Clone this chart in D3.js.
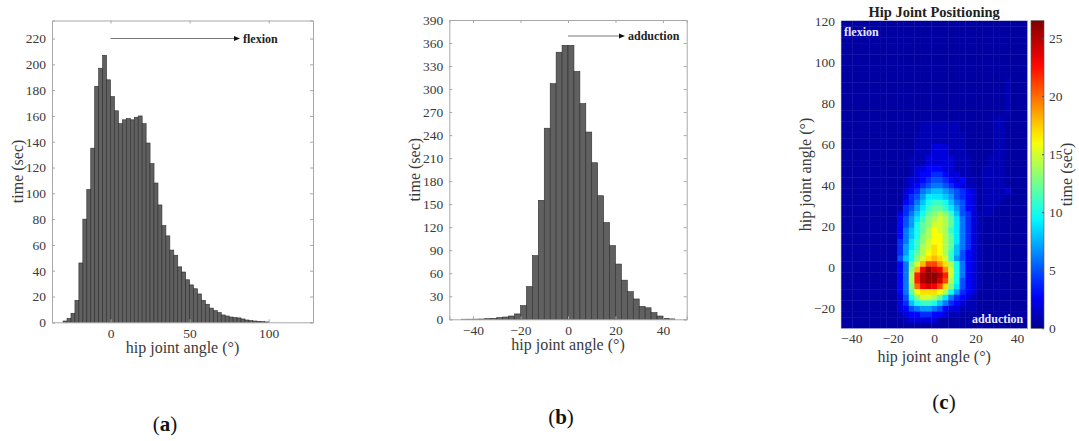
<!DOCTYPE html>
<html>
<head>
<meta charset="utf-8">
<script src="https://cdn.jsdelivr.net/npm/d3@7/dist/d3.min.js"></script>
<style>
  body { margin: 0; background: #fff; }
  svg text { font-family: "Liberation Serif", "DejaVu Serif", serif; }
</style>
</head>
<body>
<svg id="fig" width="1079" height="441"></svg>
<script>
// ---- data: panel (a) flexion histogram, 2.5 deg bins starting at -30
const flexStart = -30, binWidth = 2.5
const flexTime = [1, 3, 7, 17, 46, 80, 103, 135, 183, 197, 207, 188, 175, 164, 154, 157, 158, 157, 159, 160,
  154, 139, 123, 108, 91, 75, 67, 56, 52, 43, 39, 33, 29, 26, 22, 17, 14, 11, 9, 7.5,
  5.7, 4.9, 4.1, 3.6, 3.4, 2.6, 1.8, 1.3, 1.0, 0.8, 0.5, 0.3]
const flexXTicks = [0, 50, 100]
const flexYTicks = [0, 20, 40, 60, 80, 100, 120, 140, 160, 180, 200, 220]

// ---- data: panel (b) adduction histogram, 2.5 deg bins starting at -45
const addStart = -45
const addTime = [0.1, 0.15, 0.2, 0.4, 0.9, 1.3, 2.2, 3, 4.3, 7, 17.8, 42.6, 83, 155, 249, 307, 348, 357,
  357, 323, 281, 244, 204, 161, 126, 96, 72, 51, 36, 26.5, 16.8, 15, 8.7, 4.3, 1.3, 0.5]
const addXTicks = [-40, -20, 0, 20, 40]
const addYTicks = [0, 30, 60, 90, 120, 150, 180, 210, 240, 270, 300, 330, 360, 390]

// ---- data: panel (c) 2D histogram (sec), rows from top (flexion 120) to bottom (-30)
// one char per cell: "." = 0.5, then 0-9, a=10 ... q=26
const heatCols = 33, heatRows = 55
const heatGrid = [
  ".................................",
  ".................................",
  ".................................",
  ".................................",
  ".................................",
  ".................................",
  ".................................",
  ".................................",
  ".................................",
  ".................................",
  ".............................1...",
  ".............................1...",
  ".............................1...",
  ".............................1...",
  ".............................1...",
  ".............................1...",
  ".............................1...",
  "...........................11....",
  "..............1111111......11....",
  "..............1111111......11....",
  ".............111111111.....11....",
  ".............111111111.....11....",
  ".............111222111.....11....",
  ".............111222111.....11....",
  "............11122222111...111....",
  "............11122222111...111....",
  "............12233322111..1111....",
  "............12334432211..1111....",
  "...........1223455432311.1111....",
  "...........1234566543211.1111....",
  "...........2346788765432.11112...",
  "...........2457999875432.1111....",
  "...........3468abba86532.111.....",
  "..........14579bccb97532.11......",
  "..........2468acdedb8542111......",
  "..........3579bdefec96421........",
  "..........357acdffec96421........",
  "..........368acegfeb96421........",
  "..........368adeggec96421........",
  "..........469bdfggec96421........",
  "..........479befhgec86421........",
  "..........47aceghgeb85321........",
  "..........58adfhihfb75321........",
  "..........36cfilljhea6321........",
  "..........36dinqonjfa6321........",
  "..........36empqqpmfa6321........",
  "..........36empqqolea5321........",
  "..........36dknonlhd95321........",
  "..........36cghhhgea7432.........",
  "..........25adffec964321.........",
  "..........248abba8643211.........",
  "..........23567765322111.........",
  "..........12334433211............",
  "...........122222................",
  "................................."
]
const heatXTicks = [-40, -20, 0, 20, 40]
const heatYTicks = [-20, 0, 20, 40, 60, 80, 100, 120]
const cbarTicks = [0, 5, 10, 15, 20, 25]
const cbarMax = 26.5

const svg = d3.select("#fig")
const textCol = "#3a3a3a", frameCol = "#a8a8a8"
const tickFont = "13.5px", labelFont = "16px"

// draw a histogram panel with a matlab-like box
function histPanel(box, xDom, yDom, start, values, xTicks, yTicks, arrowText) {
  const x = d3.scaleLinear().domain(xDom).range([box.left, box.right])
  const y = d3.scaleLinear().domain(yDom).range([box.bottom, box.top])
  const g = svg.append("g")

  g.selectAll("rect.bar")
    .data(values)
    .enter().append("rect")
    .attr("class", "bar")
    .attr("x", (d, i) => x(start + i * binWidth))
    .attr("width", (d, i) => x(start + (i + 1) * binWidth) - x(start + i * binWidth))
    .attr("y", d => y(d))
    .attr("height", d => y(0) - y(d))
    .attr("fill", "#606060")
    .attr("stroke", "#2e2e2e")
    .attr("stroke-width", 0.6)

  // axes with inward ticks
  const left = g.append("g").attr("transform", "translate(" + box.left + ",0)")
    .call(d3.axisLeft(y).tickValues(yTicks).tickSize(-3).tickPadding(6))
  const right = g.append("g").attr("transform", "translate(" + box.right + ",0)")
    .call(d3.axisRight(y).tickValues(yTicks).tickSize(-3).tickFormat(""))
  const bottom = g.append("g").attr("transform", "translate(0," + box.bottom + ")")
    .call(d3.axisBottom(x).tickValues(xTicks).tickSize(-3).tickPadding(6))
  const top = g.append("g").attr("transform", "translate(0," + box.top + ")")
    .call(d3.axisTop(x).tickValues(xTicks).tickSize(-3).tickFormat(""))
  ;[left, right, bottom, top].forEach(a => {
    a.select(".domain").attr("stroke", frameCol)
    a.selectAll(".tick line").attr("stroke", frameCol)
    a.selectAll("text").attr("fill", textCol).style("font-size", tickFont)
      .style("font-family", "'Liberation Serif', serif")
  })

  // axis titles
  g.append("text")
    .attr("x", (box.left + box.right) / 2)
    .attr("y", box.bottom + 31)
    .attr("text-anchor", "middle")
    .attr("fill", textCol)
    .style("font-size", labelFont)
    .text("hip joint angle (°)")
  g.append("text")
    .attr("transform", "translate(" + (box.left - 29) + "," + ((box.top + box.bottom) / 2) + ") rotate(-90)")
    .attr("text-anchor", "middle")
    .attr("fill", textCol)
    .style("font-size", labelFont)
    .text("time (sec)")

  // direction arrow
  const ay = box.arrowY
  g.append("line")
    .attr("x1", x(0)).attr("x2", box.arrowEnd - 4)
    .attr("y1", ay).attr("y2", ay)
    .attr("stroke", "#777").attr("stroke-width", 1)
  g.append("path")
    .attr("d", "M" + (box.arrowEnd - 6) + "," + (ay - 2.5) + "L" + box.arrowEnd + "," + ay + "L" + (box.arrowEnd - 6) + "," + (ay + 2.5) + "Z")
    .attr("fill", "#111")
  g.append("text")
    .attr("x", box.arrowEnd + 3)
    .attr("y", ay + 4)
    .attr("fill", "#222")
    .style("font-size", "12px")
    .style("font-weight", "bold")
    .text(arrowText)
}

histPanel({left: 52, right: 313, top: 20.5, bottom: 322.3, arrowY: 38.5, arrowEnd: 240},
  [-37, 128], [0, 234], flexStart, flexTime, flexXTicks, flexYTicks, "flexion")
histPanel({left: 449.3, right: 686.7, top: 20, bottom: 319.3, arrowY: 36, arrowEnd: 625},
  [-50, 50], [0, 390], addStart, addTime, addXTicks, addYTicks, "adduction")

// ---- panel (c) heatmap
const hb = {left: 841, right: 1027.3, top: 20.7, bottom: 328.3}
const hx = d3.scaleLinear().domain([-45, 45]).range([hb.left, hb.right])
const hy = d3.scaleLinear().domain([-30, 120]).range([hb.bottom, hb.top])
const jet = d3.scaleLinear()
  .domain([0, 0.11, 0.36, 0.61, 0.86, 1].map(t => t * cbarMax))
  .range(["#00008f", "#0000ff", "#00ffff", "#ffff00", "#ff0000", "#800000"])
  .clamp(true)

const code = "0123456789abcdefghijklmnopq"
const cellValue = ch => ch === "." || ch === undefined ? 0.5 : code.indexOf(ch)
const cells = []
heatGrid.forEach((row, r) => {
  for (let c = 0; c < heatCols; c++) {
    cells.push({c: c, r: r, v: cellValue(row[c])})
  }
})
const cw = 90 / heatCols, ch = 150 / heatRows
const hg = svg.append("g")
hg.selectAll("rect.cell")
  .data(cells)
  .enter().append("rect")
  .attr("class", "cell")
  .attr("x", d => hx(-45 + d.c * cw))
  .attr("y", d => hy(120 - d.r * ch))
  .attr("width", d => hx(-45 + (d.c + 1) * cw) - hx(-45 + d.c * cw) + 0.4)
  .attr("height", d => hy(120 - (d.r + 1) * ch) - hy(120 - d.r * ch) + 0.4)
  .attr("fill", d => jet(d.v))

hg.append("rect")
  .attr("x", hb.left).attr("y", hb.top)
  .attr("width", hb.right - hb.left).attr("height", hb.bottom - hb.top)
  .attr("fill", "none").attr("stroke", "#d0d0e0").attr("stroke-width", 0.6)

const hLeft = hg.append("g").attr("transform", "translate(" + hb.left + ",0)")
  .call(d3.axisLeft(hy).tickValues(heatYTicks).tickSize(0).tickPadding(6))
const hBottom = hg.append("g").attr("transform", "translate(0," + hb.bottom + ")")
  .call(d3.axisBottom(hx).tickValues(heatXTicks).tickSize(0).tickPadding(5))
;[hLeft, hBottom].forEach(a => {
  a.select(".domain").remove()
  a.selectAll("text").attr("fill", textCol).style("font-size", tickFont)
    .style("font-family", "'Liberation Serif', serif")
})

hg.append("text")
  .attr("x", (hb.left + hb.right) / 2).attr("y", 362)
  .attr("text-anchor", "middle").attr("fill", textCol)
  .style("font-size", labelFont).text("hip joint angle (°)")
hg.append("text")
  .attr("transform", "translate(811," + ((hb.top + hb.bottom) / 2) + ") rotate(-90)")
  .attr("text-anchor", "middle").attr("fill", textCol)
  .style("font-size", labelFont).text("hip joint angle (°)")
hg.append("text")
  .attr("x", (hb.left + hb.right) / 2).attr("y", 17)
  .attr("text-anchor", "middle").attr("fill", "#222")
  .style("font-size", "14.5px").style("font-weight", "bold")
  .text("Hip Joint Positioning")
hg.append("text")
  .attr("x", hb.left + 3).attr("y", 36)
  .attr("fill", "#e8e8ff").style("font-size", "12px").style("font-weight", "bold")
  .text("flexion")
hg.append("text")
  .attr("x", hb.right - 4).attr("y", 323)
  .attr("text-anchor", "end")
  .attr("fill", "#e8e8ff").style("font-size", "12px").style("font-weight", "bold")
  .text("adduction")

// colorbar
const cb = {left: 1031, right: 1044}
const cy = d3.scaleLinear().domain([0, cbarMax]).range([hb.bottom, hb.top])
const grad = svg.append("defs").append("linearGradient")
  .attr("id", "jetgrad").attr("x1", 0).attr("y1", 1).attr("x2", 0).attr("y2", 0)
d3.range(0, 1.0001, 0.05).forEach(t => {
  grad.append("stop").attr("offset", t).attr("stop-color", jet(t * cbarMax))
})
hg.append("rect")
  .attr("x", cb.left).attr("y", hb.top)
  .attr("width", cb.right - cb.left).attr("height", hb.bottom - hb.top)
  .attr("fill", "url(#jetgrad)")
  .attr("stroke", "#555").attr("stroke-width", 0.6)
const cAxis = hg.append("g").attr("transform", "translate(" + cb.right + ",0)")
  .call(d3.axisRight(cy).tickValues(cbarTicks).tickSize(-2).tickPadding(5))
cAxis.select(".domain").remove()
cAxis.selectAll(".tick line").attr("stroke", "#555")
cAxis.selectAll("text").attr("fill", textCol).style("font-size", tickFont)
  .style("font-family", "'Liberation Serif', serif")
hg.append("text")
  .attr("transform", "translate(1072," + ((hb.top + hb.bottom) / 2) + ") rotate(-90)")
  .attr("text-anchor", "middle").attr("fill", textCol)
  .style("font-size", labelFont).text("time (sec)")

// panel letters
const letters = [["a", 165, 431], ["b", 561, 424], ["c", 944, 409]]
letters.forEach(l => {
  const t = svg.append("text").attr("x", l[1]).attr("y", l[2])
    .attr("text-anchor", "middle").attr("fill", "#111").style("font-size", "21px")
  t.append("tspan").text("(")
  t.append("tspan").style("font-weight", "bold").text(l[0])
  t.append("tspan").text(")")
})
</script>
</body>
</html>
